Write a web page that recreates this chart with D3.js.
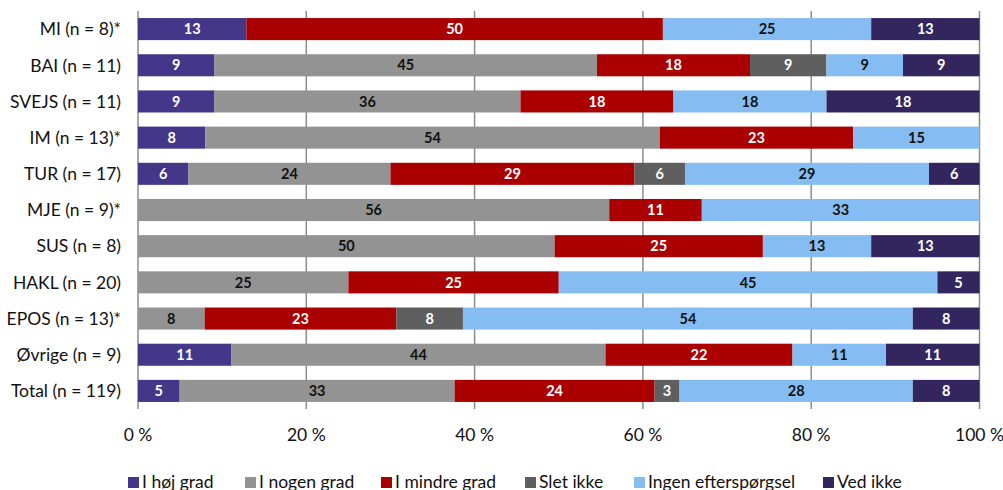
<!DOCTYPE html>
<html><head><meta charset="utf-8">
<script src="https://cdn.jsdelivr.net/npm/d3@7"></script>
<style>html,body{margin:0;padding:0;background:#fff}svg{display:block}</style>
</head><body>
<svg id="chart" width="1003" height="490"></svg>
<script>
const categories = ["MI (n = 8)*","BAI (n = 11)","SVEJS (n = 11)","IM (n = 13)*","TUR (n = 17)","MJE (n = 9)*","SUS (n = 8)","HAKL (n = 20)","EPOS (n = 13)*","Øvrige (n = 9)","Total (n = 119)"];
const seriesNames = ["I høj grad","I nogen grad","I mindre grad","Slet ikke","Ingen efterspørgsel","Ved ikke"];
// percentages as labelled in the chart (each bar is drawn as a share of its own total)
const hoej    = [13, 9, 9, 8, 6, 0, 0, 0, 0, 11, 5];
const nogen   = [0, 45, 36, 54, 24, 56, 50, 25, 8, 44, 33];
const mindre  = [50, 18, 18, 23, 29, 11, 25, 25, 23, 22, 24];
const slet    = [0, 9, 0, 0, 6, 0, 0, 0, 8, 0, 3];
const ingen   = [25, 9, 18, 15, 29, 33, 13, 45, 54, 11, 28];
const vedikke = [13, 9, 18, 0, 6, 0, 13, 5, 8, 11, 8];
const tickValues = [0, 20, 40, 60, 80, 100];

const seriesValues = [hoej, nogen, mindre, slet, ingen, vedikke];
const colors = ["#44378A", "#939393", "#AA0000", "#5F5F5F", "#85BDF2", "#33265F"];
const labelColors = ["#fff", "#111", "#fff", "#fff", "#111", "#fff"];

const table = categories.map((c, i) => {
  const row = {cat: c};
  seriesNames.forEach((s, j) => row[s] = seriesValues[j][i]);
  return row;
});
const stack = d3.stack().keys(seriesNames).offset(d3.stackOffsetExpand)(table);

const svg = d3.select("#chart");
const font = "'Source Sans Pro','Lato','Noto Sans',sans-serif";
const x = d3.scaleLinear().domain([0, 1]).range([138, 979.5]);
const xt = d3.scaleLinear().domain([0, 100]).range([138, 979.5]);
const y = d3.scaleBand().domain(categories).range([11, 409]).paddingInner(0.39).paddingOuter(0.195);

// grid lines
svg.append("g").selectAll("line").data(tickValues).join("line")
  .attr("x1", d => xt(d)).attr("x2", d => xt(d))
  .attr("y1", 11).attr("y2", 409)
  .attr("stroke", "#8c8c8c").attr("stroke-width", 1.5);

// bars
stack.forEach((layer, i) => {
  const pts = layer.map((p, k) => ({p, v: seriesValues[i][k]})).filter(d => d.v > 0);
  const g = svg.append("g");
  g.selectAll("rect").data(pts).join("rect")
    .attr("x", d => x(d.p[0]))
    .attr("width", d => x(d.p[1]) - x(d.p[0]))
    .attr("y", d => y(d.p.data.cat))
    .attr("height", y.bandwidth())
    .attr("fill", colors[i]);
  g.selectAll("text").data(pts).join("text")
    .attr("x", d => (x(d.p[0]) + x(d.p[1])) / 2)
    .attr("y", d => y(d.p.data.cat) + y.bandwidth() / 2)
    .attr("dy", "0.36em")
    .attr("text-anchor", "middle")
    .attr("font-family", font).attr("font-size", 14.5).attr("font-weight", "bold")
    .attr("fill", labelColors[i])
    .text(d => d.v);
});

// category labels
svg.append("g").selectAll("text").data(categories).join("text")
  .attr("x", 121).attr("y", d => y(d) + y.bandwidth() / 2)
  .attr("dy", "0.36em").attr("text-anchor", "end")
  .attr("font-family", font).attr("font-size", 17.5).attr("fill", "#111")
  .text(d => d);

// x tick labels
svg.append("g").selectAll("text").data(tickValues).join("text")
  .attr("x", d => xt(d)).attr("y", 441).attr("text-anchor", "middle")
  .attr("font-family", font).attr("font-size", 17.5).attr("fill", "#111")
  .text(d => d + " %");

// legend
const legendX = [128, 245, 381, 525, 634, 823];
const lg = svg.append("g").selectAll("g").data(seriesNames).join("g")
  .attr("transform", (d, i) => `translate(${legendX[i]},0)`);
lg.append("rect").attr("x", 0).attr("y", 477).attr("width", 11).attr("height", 11)
  .attr("fill", (d, i) => colors[i]);
lg.append("text").attr("x", 14).attr("y", 487.5)
  .attr("font-family", font).attr("font-size", 17.5).attr("fill", "#111")
  .text(d => d);
</script>
</body></html>
